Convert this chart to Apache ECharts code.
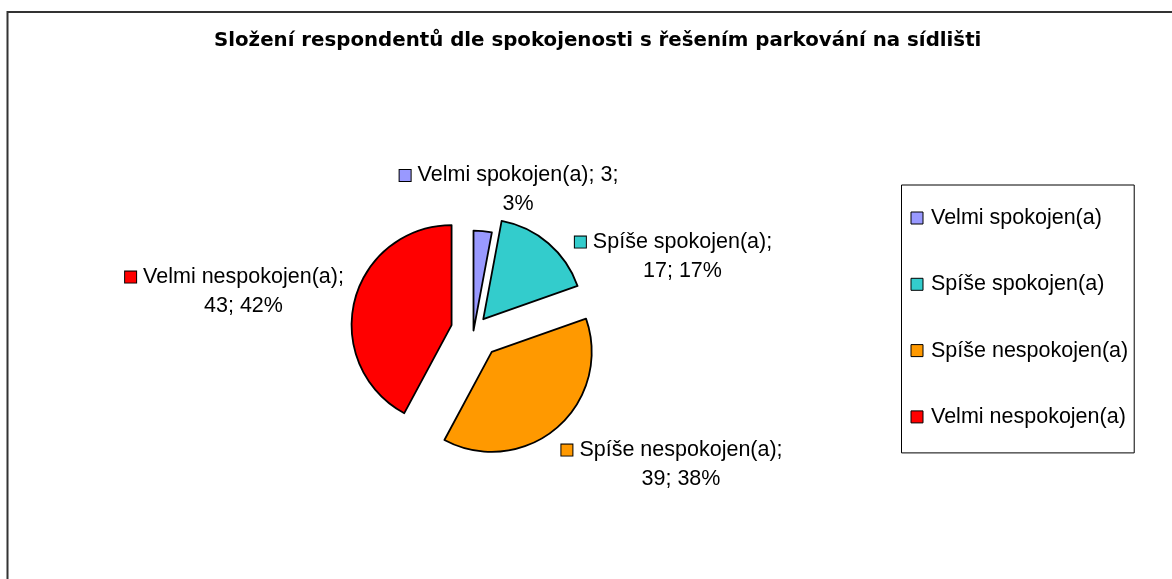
<!DOCTYPE html>
<html>
<head>
<meta charset="utf-8">
<title>Spokojenost s parkováním</title>
<script src="https://cdn.jsdelivr.net/npm/echarts@6/dist/echarts.min.js"></script>
<style>
  html, body { margin: 0; padding: 0; background: #fff; }
  #chart { width: 1172px; height: 579px; }
</style>
</head>
<body>
<div id="chart"></div>
<script>
// data
var titleText = 'Složení respondentů dle spokojenosti s řešením parkování na sídlišti';
var categories = ['Velmi spokojen(a)', 'Spíše spokojen(a)', 'Spíše nespokojen(a)', 'Velmi nespokojen(a)'];
var counts = [3, 17, 39, 43];

// styles
var colors = ['#9999FF', '#33CCCC', '#FF9900', '#FF0000'];
var explode = [0, 15, 28, 22.6];          // px each slice is pulled out
var labelOffsets = [[44.5, -140.6], [209, -74], [207.5, 134], [-230, -39]];
var wrapAfterValue = [true, false, false, false];
var center = [473.5, 330.6];
var radius = 100;
var font = 'Liberation Sans, Arial, sans-serif';
var fontSize = 21.5;

var chart = echarts.init(document.getElementById('chart'));

var total = counts.reduce(function (a, b) { return a + b; }, 0);

var series = [];
var acc = 0;
counts.forEach(function (v, i) {
    var mid = (acc + v / 2) / total * 2 * Math.PI;
    acc += v;
    var cx = center[0] + explode[i] * Math.sin(mid);
    var cy = center[1] - explode[i] * Math.cos(mid);
    series.push({
        type: 'pie',
        center: [cx, cy],
        radius: radius,
        startAngle: 90,
        clockwise: true,
        avoidLabelOverlap: false,
        emphasis: { disabled: true },
        silent: true,
        labelLine: { show: false },
        label: {
            position: 'outside',
            fontFamily: font,
            fontSize: fontSize,
            color: '#000',
            formatter: function (p) {
                var pct = Math.round(p.percent);
                var l1, l2;
                if (wrapAfterValue[i]) {
                    l1 = p.name + '; ' + p.value + ';';
                    l2 = pct + '%';
                } else {
                    l1 = p.name + ';';
                    l2 = p.value + '; ' + pct + '%';
                }
                return '{sq|}{gap|}{t|' + l1 + '}\n{pad|}{t|' + l2 + '}';
            },
            rich: {
                sq: { width: 11, height: 11, backgroundColor: colors[i], borderColor: '#000', borderWidth: 1 },
                gap: { width: 7 },
                pad: { width: 18 },
                t: { fontFamily: font, fontSize: fontSize, color: '#000', lineHeight: 29 }
            }
        },
        labelLayout: function (p) {
            var o = labelOffsets[p.seriesIndex];
            return { x: center[0] + o[0] - 9, y: center[1] + o[1], align: 'center', verticalAlign: 'middle' };
        },
        data: counts.map(function (c, j) {
            return {
                value: c,
                name: categories[j],
                itemStyle: j === i
                    ? { color: colors[j], borderColor: '#000', borderWidth: 1.8 }
                    : { color: 'rgba(0,0,0,0)', borderWidth: 0 },
                label: { show: j === i }
            };
        })
    });
});

var option = {
    backgroundColor: '#fff',
    animation: false,
    title: {
        text: titleText,
        left: 214,
        top: 31,
        padding: 0,
        textStyle: { fontFamily: 'DejaVu Sans, sans-serif', fontSize: 19.8, fontWeight: 'bold', color: '#000' }
    },
    legend: {
        orient: 'vertical',
        left: 901.5,
        top: 185,
        padding: [22, 6, 25, 9],
        itemGap: 44.3,
        itemWidth: 12,
        itemHeight: 12,
        icon: 'rect',
        borderColor: '#000',
        borderWidth: 1,
        selectedMode: false,
        textStyle: { fontFamily: font, fontSize: fontSize, color: '#000', padding: [0, 0, 0, 3] },
        data: categories.map(function (n, j) {
            return { name: n, itemStyle: { color: colors[j], borderColor: '#000', borderWidth: 1 } };
        })
    },
    graphic: [{
        type: 'rect',
        shape: { x: 7.5, y: 12, width: 1200, height: 700 },
        style: { fill: 'none', stroke: '#333', lineWidth: 2 },
        silent: true
    }],
    series: series
};

chart.setOption(option);
</script>
</body>
</html>
